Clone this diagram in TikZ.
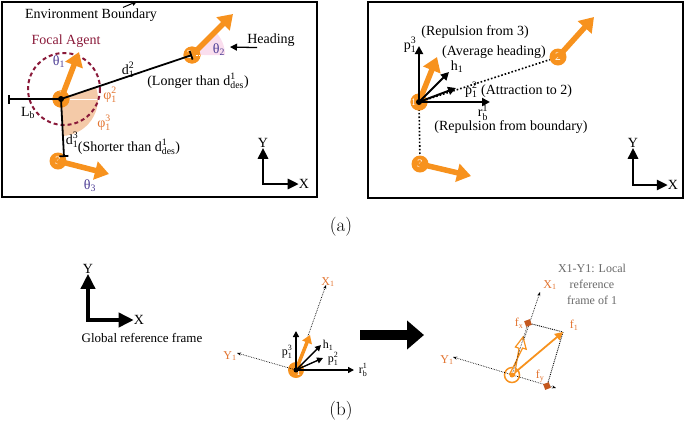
\documentclass[tikz,border=0pt]{standalone}
\usepackage{fontspec}
\usepackage{amsmath}
\newfontfamily\figfont{Liberation Serif}
\usetikzlibrary{arrows.meta, positioning, calc}
\definecolor{agentor}{RGB}{247,146,30}
\definecolor{darkor}{RGB}{196,88,30}
\definecolor{labelor}{RGB}{226,116,48}
\definecolor{thetablue}{RGB}{78,62,150}
\definecolor{focalred}{RGB}{138,26,58}
\definecolor{sectorfill}{RGB}{244,202,168}
\definecolor{pinkfill}{RGB}{250,222,238}
\definecolor{notegray}{RGB}{105,105,105}
\newcommand\vsym[3]{$\text{#1}^{\text{#3}}_{\text{#2}}$}
\newcommand\vsub[2]{$\text{#1}_{\text{#2}}$}

\begin{document}
\begin{tikzpicture}[
    x=1pt, y=-1pt,
    boxline/.style={line width=2.4pt},
    agent/.style={circle, fill=agentor, minimum size=17pt, inner sep=0pt, text=white, font=\figfont\fontsize{11.5}{11.5}\selectfont},
    agentnum/.style={text=white, inner sep=0.6pt, font=\figfont\fontsize{10}{10}\selectfont},
    heading/.style={agentor, line width=5.5pt, -{Triangle[length=14pt, width=18pt]}},
    force/.style={line width=2pt, -{Triangle[length=8pt, width=8pt]}},
    smallforce/.style={line width=1.4pt, -{Triangle[length=6pt, width=6pt]}},
    gap/.style={line width=1.8pt, -{Bar[width=9pt, line width=1.8pt]}},
    axisarr/.style={line width=2.6pt, {Triangle[length=11pt, width=10pt]}-{Triangle[length=11pt, width=10pt]}},
    lbl/.style={font=\figfont\fontsize{14}{16}\selectfont, inner sep=0pt},
    smalllbl/.style={font=\figfont\fontsize{12}{14}\selectfont, inner sep=0pt},
    framedot/.style={densely dotted, line width=0.7pt, {Stealth[length=4pt]}-{Stealth[length=4pt]}},
    sublbl/.style={font=\fontsize{19}{22}\selectfont, inner sep=0pt}
  ]
  \useasboundingbox (0,0) rectangle (685,424);

  % (a) left: distances and angles
  \draw[boxline] (2,2) rectangle (317,197);
  \node[lbl] (envlbl) at (91,15) {Environment Boundary};
  \draw[line width=1pt, -{Triangle[length=5pt, width=5pt]}] ($(envlbl.north)+(32,-1)$) -- ++(14,-6);

  \node[agent] (a1) at (61,99) {};
  \node[agent] (a2) at (192,55) {};
  \node[agent] (a3) at (58,161) {3};
  \coordinate (t3) at (64,157);
  \coordinate (bnd) at (8,99);
  \coordinate (h1tip) at (79,52);
  \coordinate (h2tip) at (233,14);
  \coordinate (h3tip) at (109,174);

  \fill[sectorfill] (a1.center) -- ++(18:37pt) arc[start angle=18, end angle=-87, radius=37pt] -- cycle;
  \draw[white, line width=1pt] (a1.center) -- ++(37,0);
  \fill[pinkfill] (a2.center) -- ++(0:33pt) arc[start angle=0, end angle=45, radius=33pt] -- cycle;
  \draw[focalred, line width=2pt, dash pattern=on 4pt off 3pt] (64,89) circle[radius=36];
  \node[agent] at (a1) {};
  \node[agent] at (a2) {\hspace*{-5pt}2};
  \draw[white, densely dotted, line width=0.8pt] (a2.center) -- ++(12,0);
  \node[agent, label={[agentnum, anchor=north]north:1}] at (a1) {};

  \draw[heading] (a1.center) -- (h1tip);
  \draw[heading] (a2.center) -- (h2tip);
  \draw[heading] (a3.center) -- (h3tip);
  \draw[gap] (a1.center) -- (a2.center);
  \draw[gap] (a1.center) -- (bnd);
  \draw[gap] (a1.center) -- (t3);
  \fill (a1) circle (3pt);

  \node[lbl, text=focalred] (focal) at (66,41) {Focal Agent};
  \node[lbl, text=thetablue] (th1) at (59,62) {\vsub{θ}{1}};
  \node[lbl] (d12) at (128,70) {\vsym{d}{1}{2}};
  \node[lbl] (longer) at (198,81) {(Longer than \vsym{d}{des}{1})};
  \node[lbl] (headlbl) at (271,40) {Heading};
  \coordinate (headtip) at (230,47);
  \draw[line width=1.3pt, -{Triangle[length=7pt, width=7pt]}] ($(headlbl.south west)+(10,1)$) -- (headtip);
  \node[lbl, text=thetablue] (th2) at (219,50) {\vsub{θ}{2}};
  \node[lbl, text=labelor] (phi12) at (110,95) {\vsym{φ}{1}{2}};
  \node[lbl, text=labelor] (phi13) at (104,123) {\vsym{φ}{1}{3}};
  \node[lbl] (lb) at (28,113) {\vsub{L}{b}};
  \node[lbl] (d13) at (72,140) {\vsym{d}{1}{3}};
  \node[lbl] (shorter) at (129,147) {(Shorter than \vsym{d}{des}{1})};
  \node[lbl, text=thetablue] (th3) at (90,186) {\vsub{θ}{3}};

  \node[lbl] (ya) at (263,143) {Y};
  \node[lbl] (xa) at (304,184) {X};
  \draw[axisarr] (ya) |- (xa);

  % (a) right: resulting forces
  \draw[boxline] (368,2) rectangle (683,198);
  \node[agent] (b1) at (419,102) {};
  \node[agent] (b2) at (558,57) {2};
  \node[agent] (b3) at (420,164) {3};
  \draw[line width=1.6pt, dotted] (b1.center) -- (b2);
  \draw[line width=1.6pt, dotted] (b1.center) -- (b3);
  \node[agent, label={[agentnum, anchor=west]west:1}] at (b1) {};
  \coordinate (g1tip) at (437,57);
  \coordinate (g2tip) at (594,17);
  \coordinate (g3tip) at (471,176);
  \draw[heading] (b1.center) -- (g1tip);
  \draw[heading] (b2.center) -- (g2tip);
  \draw[heading] (b3.center) -- (g3tip);
  \coordinate (p13tip) at (419,46);
  \coordinate (h1vec) at (449,72);
  \coordinate (p12tip) at (456,88);
  \coordinate (rbtip) at (490,102);
  \draw[force] (b1.center) -- (p13tip);
  \draw[force] (b1.center) -- (h1vec);
  \draw[force] (b1.center) -- (p12tip);
  \draw[force] (b1.center) -- (rbtip);
  \fill (b1) circle (3pt);

  \node[lbl] (rep3) at (475,32) {(Repulsion from 3)};
  \node[lbl] (p13) at (410,45) {\vsym{p}{1}{3}};
  \node[lbl] (avg) at (494,52) {(Average heading)};
  \node[lbl] (h1lbl) at (457,67) {\vsub{h}{1}};
  \node[lbl, anchor=west] (att2) at (465,90) {\vsym{p}{1}{2} (Attraction to 2)};
  \node[lbl] (rb1) at (483,113) {\vsym{r}{b}{1}};
  \node[lbl] (repb) at (511,127) {(Repulsion from boundary)};

  \node[lbl] (yb) at (633,143) {Y};
  \node[lbl] (xb) at (673,185) {X};
  \draw[axisarr] (yb) |- (xb);

  \node[sublbl] (capa) at (341,227) {(a)};

  % (b) left: global frame
  \node[lbl] (yg) at (88,269) {Y};
  \node[lbl] (xg) at (139,320) {X};
  \draw[line width=3.6pt, {Triangle[length=15pt, width=14pt]}-{Triangle[length=15pt, width=14pt]}] (yg) |- (xg);
  \node[smalllbl, font=\figfont\fontsize{13}{15}\selectfont] (glob) at (142,338) {Global reference frame};

  % (b) middle: forces of 1
  \node[agent, minimum size=16pt, label={[agentnum, anchor=south east]south east:1}] (c1) at (296,370) {};
  \coordinate (cx1) at (326,285);
  \coordinate (cy1) at (237,353);
  \draw[densely dotted, line width=0.7pt, -{Stealth[length=4pt]}] (c1.center) -- (cx1);
  \draw[densely dotted, line width=0.7pt, -{Stealth[length=4pt]}] (c1.center) -- (cy1);
  \coordinate (ch) at (310,335);
  \draw[agentor, line width=3.5pt, -{Triangle[length=8pt, width=10pt]}] (c1.center) -- (ch);
  \coordinate (cp13) at (296,331);
  \coordinate (chv) at (321,345);
  \coordinate (cp12) at (323,358);
  \coordinate (crb) at (354,370);
  \draw[smallforce] (c1.center) -- (cp13);
  \draw[smallforce] (c1.center) -- (chv);
  \draw[smallforce] (c1.center) -- (cp12);
  \draw[smallforce] (c1.center) -- (crb);
  \fill (c1) circle (2.5pt);
  \node[smalllbl, text=labelor] at (328,282) {\vsub{X}{1}};
  \node[smalllbl, text=labelor] at (230,356) {\vsub{Y}{1}};
  \node[smalllbl] at (287,352) {\vsym{p}{1}{3}};
  \node[smalllbl] at (328,345) {\vsub{h}{1}};
  \node[smalllbl] at (333,359) {\vsym{p}{1}{2}};
  \node[smalllbl] at (363,370) {\vsym{r}{b}{1}};

  % transformation arrow
  \coordinate (bigl) at (360,335);
  \coordinate (bigr) at (424,335);
  \draw[line width=10pt, -{Triangle[length=17pt, width=28pt]}] (bigl) -- (bigr);

  % (b) right: local frame of 1
  \node[circle, draw=agentor, line width=1.5pt, minimum size=15pt, inner sep=0pt] (e1) at (512,375) {};
  \coordinate (ex1) at (540,292);
  \coordinate (eya) at (453,357);
  \coordinate (eyb) at (556,388);
  \draw[densely dotted, line width=0.7pt, -{Stealth[length=4pt]}] (e1.center) -- (ex1);
  \draw[framedot] (eya) -- (eyb);
  \node[fill=darkor, minimum size=6pt, inner sep=0pt, rotate=20] (fx) at (528,323) {};
  \node[fill=darkor, minimum size=6pt, inner sep=0pt, rotate=20] (fy) at (547,386) {};
  \coordinate (f1tip) at (563,332);
  \draw[densely dotted, line width=0.9pt] (fx) -- (f1tip);
  \draw[densely dotted, line width=0.9pt] (fy) -- (f1tip);
  \draw[agentor, line width=1.8pt, -{Triangle[length=8pt, width=8pt]}] (e1.center) -- (f1tip);
  \draw[agentor, line width=1.2pt, fill=white] (514.4,375.7) -- (519.0,348.3) -- (515.4,347.0) -- (523,337) -- (526.2,349.2) -- (522.6,348.0) -- (509.6,374.3) -- cycle;
  \draw[densely dotted, line width=0.6pt] (e1.center) -- (fx);
  \fill[agentor] (e1) circle (2.5pt);
  \node[smalllbl, text=labelor] at (550,285) {\vsub{X}{1}};
  \node[smalllbl, text=labelor] at (447,360) {\vsub{Y}{1}};
  \node[smalllbl, text=labelor] at (519,323) {\vsub{f}{x}};
  \node[smalllbl, text=labelor] at (540,376) {\vsub{f}{y}};
  \node[smalllbl, text=labelor] at (574,325) {\vsub{f}{1}};
  \node[smalllbl, text=notegray, align=center, font=\figfont\fontsize{12}{16}\selectfont] (note) at (592,284) {X1-Y1: Local\\reference\\frame of 1};

  \node[sublbl] (capb) at (341,411) {(b)};
\end{tikzpicture}
\end{document}
